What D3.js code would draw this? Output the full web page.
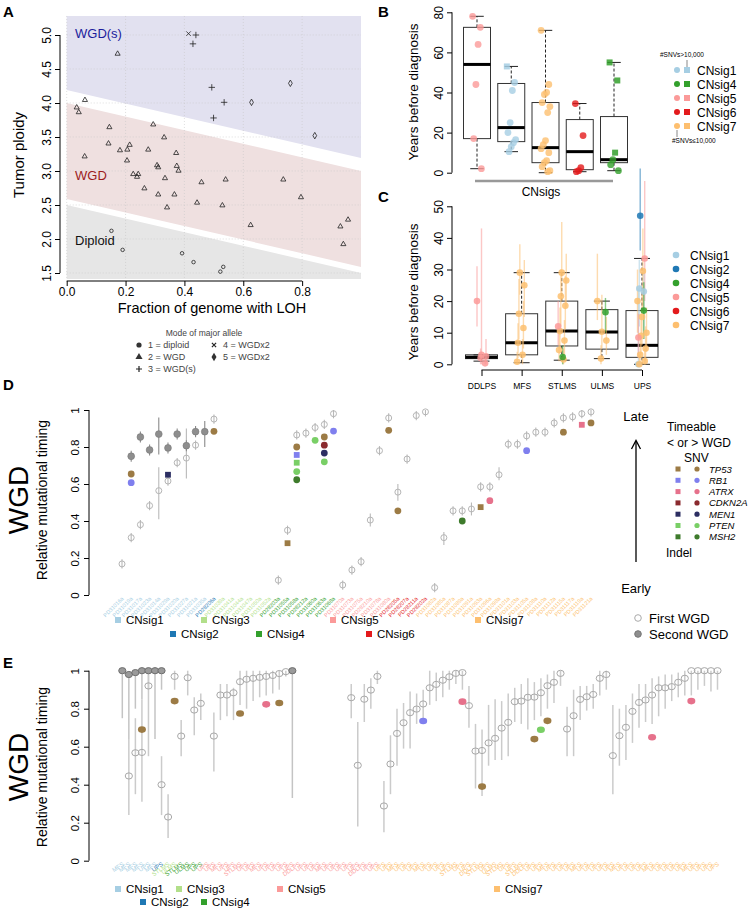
<!DOCTYPE html>
<html>
<head>
<meta charset="utf-8">
<script src="https://cdn.jsdelivr.net/npm/d3@7"></script>
<style>
  body { margin: 0; background: #fff; }
  svg { font-family: "Liberation Sans", Arial, Helvetica, sans-serif; }
</style>
</head>
<body>
<svg id="fig" width="748" height="908"></svg>
<script>
// ---------------- data ----------------
const sigColors = {
  CNsig1: '#a6cee3', CNsig2: '#1f78b4', CNsig3: '#b2df8a', CNsig4: '#33a02c',
  CNsig5: '#fb9a99', CNsig6: '#e31a1c', CNsig7: '#fdbf6f'
};
const geneColors = {
  TP53: '#9c7b45', RB1: '#7f7fee', ATRX: '#e6718b', CDKN2A: '#8a2a2e',
  MEN1: '#2c2e62', PTEN: '#79cf66', MSH2: '#3e7b2c'
};
const geneNames = ['TP53', 'RB1', 'ATRX', 'CDKN2A', 'MEN1', 'PTEN', 'MSH2'];

// Panel A: [fraction LOH, ploidy, mode]
const aPoints = [
  [0.173,4.73,2],[0.062,4.05,2],[0.034,3.94,2],[0.041,3.87,2],[0.145,3.65,2],[0.294,3.69,2],
  [0.331,3.50,2],[0.142,3.41,2],[0.214,3.39,2],[0.181,3.31,2],[0.206,3.32,2],[0.277,3.32,2],
  [0.372,3.27,2],[0.061,3.22,2],[0.205,3.16,2],[0.307,3.09,2],[0.311,3.06,2],[0.374,3.08,2],
  [0.380,3.01,2],[0.226,2.96,2],[0.243,2.96,2],[0.239,2.92,2],[0.334,2.90,2],[0.458,2.84,2],
  [0.540,2.88,2],[0.736,2.88,2],[0.264,2.75,2],[0.311,2.66,2],[0.366,2.66,2],[0.341,2.47,2],
  [0.443,2.54,2],[0.529,2.50,2],[0.796,2.62,2],[0.625,2.21,2],[0.956,2.29,2],[0.930,2.19,2],
  [0.940,1.93,2],
  [0.152,2.12,1],[0.190,1.84,1],[0.392,1.79,1],[0.431,1.66,1],[0.522,1.52,1],[0.532,1.59,1],
  [0.439,5.00,3],[0.429,4.87,3],[0.493,4.23,3],[0.535,4.01,3],[0.499,3.78,3],
  [0.414,5.02,4],
  [0.760,4.29,5],[0.628,4.01,5],[0.843,3.52,5]
];
// band boundaries, ploidy at LOH=0 and LOH=1
const bandWGDsLow = [4.19, 3.19];
const bandWGDHigh = [4.0, 3.0];
const bandWGDLow = [2.59, 1.59];
const bandDipHigh = [2.5, 1.5];
const aXTicks = [0, 0.2, 0.4, 0.6, 0.8];
const aYTicks = [1.5, 2.0, 2.5, 3.0, 3.5, 4.0, 4.5, 5.0];
const aLegend = [['1 = diploid', 1], ['2 = WGD', 2], ['3 = WGD(s)', 3], ['4 = WGDx2', 4], ['5 = WGDx2', 5]];

// Panel B
const bSigs = ['CNsig5', 'CNsig1', 'CNsig7', 'CNsig6', 'CNsig4'];
const bStats = [[2,17,54,72.5,78],[10.5,15.5,22.5,44.5,53],[0,5,12.5,35,71],[0.5,1.5,10.5,26.5,34.5],[1,5,6.5,28,55]];
const bPoints = [
  [[78,'c'],[72.5,'c'],[64,'c'],[44,'c'],[17,'c'],[2,'c']],
  [[53,'s'],[45,'c'],[41,'c'],[25,'c'],[20,'c'],[16.5,'c'],[15,'c'],[13,'c'],[10.5,'c']],
  [[71,'c'],[44,'c'],[40,'c'],[39,'c'],[35,'c'],[33,'c'],[30,'c'],[16,'c'],[14,'c'],[12,'c'],[10,'c'],[6,'c'],[5,'c'],[3,'c'],[1,'c'],[0.5,'c']],
  [[34.5,'c'],[18.5,'c'],[2.5,'c'],[1,'c'],[0.5,'c']],
  [[55,'s'],[46,'s'],[10,'s'],[6.5,'c'],[4,'c'],[1,'c']]
];
const bLegendSigs = ['CNsig1', 'CNsig4', 'CNsig5', 'CNsig6', 'CNsig7'];
const bYTicks = [0, 20, 40, 60, 80];

// Panel C
const cTypes = ['DDLPS', 'MFS', 'STLMS', 'ULMS', 'UPS'];
const cStats = [[1,1.8,2.2,3,3],[0.5,3,6.8,16,29],[1.3,5.8,10.5,20,29],[1.8,4.8,10.2,17.3,20],[0,2.2,6,17,33.5]];
const cPoints = [
  [0,'CNsig5',20,12,31],[0,'CNsig5',3,0,43],[0,'CNsig5',2.5,0,8],[0,'CNsig5',2,0,5],[0,'CNsig5',0.3,0,2],
  [1,'CNsig7',29,22,38],[1,'CNsig7',25,15,33],[1,'CNsig7',16,8,27],[1,'CNsig7',11.5,5,20],[1,'CNsig7',6.8,2,13],[1,'CNsig7',3,0,8],[1,'CNsig7',0.8,0,4],
  [2,'CNsig7',29,20,45],[2,'CNsig7',26.5,18,35],[2,'CNsig7',21.5,12,30],[2,'CNsig7',18.5,11,28],[2,'CNsig7',10.5,5,18],[2,'CNsig7',7.5,3,14],[2,'CNsig7',4.5,1,10],[2,'CNsig7',1.5,0,5],[2,'CNsig5',12,6,20],[2,'CNsig4',2.3,0,6],
  [3,'CNsig7',20,14,35],[3,'CNsig7',10.3,5,22],[3,'CNsig7',7.5,3,15],[3,'CNsig7',1.8,0,6],[3,'CNsig4',16.5,10,21],
  [4,'CNsig2',47,36,62],[4,'CNsig5',33.5,20,58],[4,'CNsig1',24,12,33],[4,'CNsig1',23,8,30],[4,'CNsig1',0,0,24],
  [4,'CNsig7',29.5,18,43],[4,'CNsig7',20,10,30],[4,'CNsig7',15,6,25],[4,'CNsig7',10,4,18],[4,'CNsig7',9,3,16],
  [4,'CNsig7',5,1,12],[4,'CNsig7',3,0,9],[4,'CNsig7',1,0,5],[4,'CNsig7',0,0,3],[4,'CNsig4',17,8,26],[4,'CNsig5',8.5,2,16]
];
const cLegendSigs = ['CNsig1', 'CNsig2', 'CNsig4', 'CNsig5', 'CNsig6', 'CNsig7'];
const cYTicks = [0, 10, 20, 30, 40, 50];

// Panel D (samples grouped by CN signature)
const dGroups = [['CNsig1',10],['CNsig2',1],['CNsig3',6],['CNsig4',7],['CNsig5',6],['CNsig6',4],['CNsig7',18]];
const dSamples = [
  'PD31016a','PD31019a','PD31017a','PD31023a','PD31014a','PD31029a','PD31020a','PD31027a','PD31021a','PD31035a',
  'PD28206a','PD31039a','PD31041a','PD31044a','PD31047a','PD31050a','PD31052a','PD28203a','PD31055a','PD31058a',
  'PD28212a','PD31060a','PD31063a','PD31068a','PD31070a','PD31073a','PD31075a','PD28210a','PD31078a','PD31080a',
  'PD28205a','PD28207a','PD28211a','PD28202a','PD31082a','PD31085a','PD31087a','PD31089a','PD31091a','PD31093a',
  'PD31096a','PD31098a','PD31101a','PD31103a','PD31105a','PD31108a','PD31110a','PD31112a','PD31115a','PD31117a',
  'PD31119a','PD31121a'
];
const dFirst = [
  0.168,0.31,0.38,0.483,0.564,0.616,0.715,0.74,0.81,null,
  0.951,null,null,null,null,null,null,0.08,0.35,0.865,
  0.875,0.905,0.922,0.98,0.054,0.135,0.18,0.405,0.78,0.957,
  0.556,0.735,0.97,0.99,0.04,0.31,0.455,0.455,0.465,0.585,
  0.585,0.65,0.815,0.815,0.86,0.88,0.88,0.93,0.957,0.963,
  0.98,0.99
];
const dWideErr = [[4,0.41,0.69],[7,0.63,0.9],[27,0.37,0.44],[30,0.51,0.6],[41,0.62,0.69],[38,0.43,0.5],[35,0.27,0.34]];
const dSecond = [[1,0.75],[2,0.854],[3,0.784],[4,0.87,0.76,0.96],[5,0.795],[6,0.87],[7,0.807],[8,0.883],[9,0.883,0.8,0.94]];
const dMuts = [
  [1,'TP53','snv',0.654],[1,'RB1','snv',0.607],[5,'MEN1','indel',0.65],[10,'TP53','snv',0.885],
  [18,'TP53','indel',0.28],[19,'TP53','snv',0.80],[19,'RB1','indel',0.757],[19,'PTEN','indel',0.715],
  [19,'PTEN','snv',0.667],[19,'MSH2','snv',0.623],[21,'PTEN','snv',0.836],[22,'TP53','snv',0.854],
  [22,'CDKN2A','snv',0.81],[22,'MEN1','snv',0.767],[22,'PTEN','snv',0.72],[23,'RB1','snv',0.886],
  [29,'TP53','snv',0.89],[30,'TP53','snv',0.455],[37,'MSH2','snv',0.40],[39,'TP53','indel',0.475],
  [40,'ATRX','snv',0.51],[44,'RB1','snv',0.78],[48,'TP53','snv',0.88],[50,'ATRX','indel',0.92],[51,'TP53','snv',0.93]
];
const timingTicks = [0, 0.2, 0.4, 0.6, 0.8, 1];

// Panel E (samples grouped by CN signature, labelled by histotype)
const eGroups = [['CNsig1',6],['CNsig2',1],['CNsig3',2],['CNsig4',4],['CNsig5',27],['CNsig7',52]];
const eTypes = (
  'MFS MFS MFS MFS UPS MFS UPS STLMS ULMS STLMS ULMS UPS UPS ' +
  'UPS UPS MFS UPS UPS STLMS UPS UPS MFS UPS UPS UPS UPS UPS DDLPS UPS UPS UPS MFS UPS UPS UPS UPS UPS DDLPS UPS UPS ' +
  'UPS UPS MFS UPS UPS UPS MFS UPS UPS UPS UPS STLMS UPS UPS DDLPS STLMS UPS ULMS STLMS UPS ' +
  'UPS STLMS DDLPS UPS UPS MFS UPS UPS UPS UPS MFS UPS UPS UPS UPS UPS MFS UPS UPS UPS ' +
  'UPS MFS UPS UPS UPS UPS UPS MFS UPS UPS UPS UPS'
).split(' ');
const eFirst = [
  [1,0.446,0.24,0.64],[2,0.568,0.35,0.75],[3,0.57,0.31,0.85],[4,0.92,0.55,1],[6,0.40,0.24,0.55],
  [7,0.23,0.12,0.35],[8,0.97,0.9,1],[9,0.656,0.55,0.74],[10,0.963,0.87,1],[11,0.793,0.66,0.86],
  [12,0.828,0.74,0.88],[14,0.656,0.47,0.78],[15,0.872,0.74,0.93],[16,0.872,0.76,0.93],[17,0.884,0.74,0.91],
  [18,0.942,0.82,1],[19,0.955,0.8,1],[20,0.96,0.84,1],[21,0.965,0.86,1],[22,0.97,0.87,1],
  [23,0.975,0.88,1],[24,0.985,0.9,1],[25,0.995,0.97,1],
  [35,0.858,0.75,0.93],[36,0.502,0.18,0.73],[37,0.85,0.73,0.93],[38,0.898,0.8,0.96],[39,0.97,0.93,1],
  [40,0.288,0.15,0.42],[41,0.509,0.35,0.66],[42,0.67,0.5,0.8],[43,0.726,0.59,0.83],[44,0.779,0.59,0.89],
  [45,0.798,0.72,0.88],[46,0.825,0.75,0.9],[47,0.91,0.82,1],[48,0.928,0.84,0.99],[49,0.95,0.86,1],
  [50,0.968,0.9,1],[51,0.986,0.93,1],[52,0.99,0.9,1],[53,0.816,0.7,0.92],[54,0.577,0.38,0.72],
  [55,0.58,0.34,0.69],[56,0.62,0.5,0.82],[57,0.644,0.53,0.85],[58,0.698,0.53,0.84],[59,0.728,0.55,0.88],
  [60,0.837,0.73,0.91],[61,0.84,0.72,0.93],[62,0.86,0.69,0.96],[63,0.861,0.74,0.94],[64,0.884,0.76,0.96],
  [65,0.921,0.8,0.98],[66,0.939,0.83,1],[67,0.986,0.92,1],[68,0.693,0.55,0.81],[69,0.763,0.55,0.9],
  [70,0.849,0.74,0.92],[71,0.863,0.79,0.92],[72,0.875,0.8,0.93],[73,0.96,0.87,1],[74,0.98,0.9,1],
  [75,0.553,0.35,0.82],[76,0.658,0.5,0.8],[77,0.702,0.53,0.82],[78,0.786,0.62,0.88],[79,0.833,0.7,0.93],
  [80,0.846,0.73,0.93],[81,0.872,0.72,0.96],[82,0.91,0.76,0.97],[83,0.91,0.8,0.98],[84,0.916,0.84,0.98],
  [85,0.939,0.86,0.99],[86,0.96,0.87,1],[87,1,0.87,1],[88,1,0.9,1],[89,1,0.92,1],[90,1,0.89,1],[91,1,0.9,1]
];
const eSecond = [[0,1,0.75],[1,0.98,0.64],[2,0.99,0.8],[3,1,0.85],[4,1,0.9],[5,1,0.64],[6,1,0.9],[26,1,0.33]];
const eMuts = [
  [3,'TP53',0.69],[8,'TP53',0.84],[18,'TP53',0.775],[22,'ATRX',0.823],[24,'TP53',0.83],[46,'RB1',0.735],
  [52,'ATRX',0.837],[55,'TP53',0.39],[63,'TP53',0.64],[64,'PTEN',0.689],[65,'TP53',0.736],[81,'ATRX',0.65],[87,'ATRX',0.84]
];

// ---------------- helpers ----------------
const svg = d3.select('#fig');

function panelLetter(txt, x, y) {
  svg.append('text').attr('x', x).attr('y', y).attr('font-size', 15).attr('font-weight', 'bold').text(txt);
}

// R-like left axis: line spans first..last tick, labels rotated
function leftAxis(scale, ticks, x, fs, fmt, labOff) {
  const g = svg.append('g').attr('transform', `translate(${x},0)`)
    .call(d3.axisLeft(scale).tickValues(ticks).tickSize(5).tickSizeOuter(0).tickFormat(fmt));
  g.select('.domain').attr('d', `M0,${scale(ticks[0])}V${scale(ticks[ticks.length - 1])}`);
  g.selectAll('.tick line').attr('stroke', '#000');
  g.selectAll('.tick text')
    .attr('x', 0).attr('dy', 0)
    .attr('transform', `translate(${-labOff},0) rotate(-90)`)
    .attr('text-anchor', 'middle')
    .attr('font-size', fs).attr('font-family', null).attr('fill', '#000');
  return g;
}

function rotTitle(txt, x, y, fs) {
  svg.append('text').attr('transform', `translate(${x},${y}) rotate(-90)`)
    .attr('text-anchor', 'middle').attr('font-size', fs).text(txt);
}

// ---------------- Panel A ----------------
panelLetter('A', 3, 17);
const ax = d3.scaleLinear().domain([0, 1]).range([66.7, 361]);
const ay = d3.scaleLinear().domain([1.5, 5]).range([273, 35]);
const aTop = 5.28, aBot = 1.41;
const band = (pts, col) => svg.append('polygon')
  .attr('points', pts.map(p => [ax(p[0]), ay(p[1])].join(',')).join(' ')).attr('fill', col);
band([[0, aTop], [1, aTop], [1, bandWGDsLow[1]], [0, bandWGDsLow[0]]], '#e2e1f0');
band([[0, bandWGDHigh[0]], [1, bandWGDHigh[1]], [1, bandWGDLow[1]], [0, bandWGDLow[0]]], '#efe0e0');
band([[0, bandDipHigh[0]], [1, bandDipHigh[1]], [1, aBot], [0, aBot]], '#e6e6e6');
// faint grid
aXTicks.forEach(t => svg.append('line').attr('x1', ax(t)).attr('x2', ax(t)).attr('y1', ay(aTop)).attr('y2', ay(aBot))
  .attr('stroke', '#c8c8c8').attr('stroke-dasharray', '1,2').attr('stroke-width', 0.6));
aYTicks.forEach(t => svg.append('line').attr('x1', ax(0)).attr('x2', ax(1)).attr('y1', ay(t)).attr('y2', ay(t))
  .attr('stroke', '#c8c8c8').attr('stroke-dasharray', '1,2').attr('stroke-width', 0.6));

svg.append('text').attr('x', 75).attr('y', 38).attr('font-size', 13).attr('fill', '#1c1c9c').text('WGD(s)');
svg.append('text').attr('x', 75).attr('y', 180).attr('font-size', 13).attr('fill', '#9c1c1c').text('WGD');
svg.append('text').attr('x', 75).attr('y', 245).attr('font-size', 13).attr('fill', '#111').text('Diploid');

function aSymbol(g, mode, x, y, s) {
  const st = { fill: 'none', stroke: '#222', 'stroke-width': 0.8 };
  let el;
  if (mode === 1) el = g.append('circle').attr('cx', x).attr('cy', y).attr('r', s * 0.55);
  else if (mode === 2) el = g.append('path').attr('transform', `translate(${x},${y + 0.4})`).attr('d', d3.symbol(d3.symbolTriangle, s * s * 1.1)());
  else if (mode === 3) el = g.append('path').attr('d', `M${x - s},${y}H${x + s}M${x},${y - s}V${y + s}`);
  else if (mode === 4) el = g.append('path').attr('d', `M${x - s * 0.7},${y - s * 0.7}L${x + s * 0.7},${y + s * 0.7}M${x - s * 0.7},${y + s * 0.7}L${x + s * 0.7},${y - s * 0.7}`);
  else el = g.append('path').attr('transform', `translate(${x},${y})`).attr('d', d3.symbol(d3.symbolDiamond, s * s * 1.2)());
  Object.entries(st).forEach(([k, v]) => el.attr(k, v));
  return el;
}
const aG = svg.append('g');
aPoints.forEach(p => aSymbol(aG, p[2], ax(p[0]), ay(p[1]), 3.2));

const aXAxis = svg.append('g').attr('transform', 'translate(0,281)')
  .call(d3.axisBottom(ax).tickValues(aXTicks).tickSize(5).tickSizeOuter(0).tickFormat(d3.format('.1f')));
aXAxis.select('.domain').attr('d', `M${ax(0)},0H${ax(0.8)}`);
aXAxis.selectAll('.tick text').attr('font-size', 12).attr('font-family', null).attr('fill', '#000').attr('dy', '0.62em');
leftAxis(ay, aYTicks, 60, 12, d3.format('.1f'), 9);
rotTitle('Tumor ploidy', 24, 155, 15);
svg.append('text').attr('x', 212).attr('y', 313).attr('text-anchor', 'middle').attr('font-size', 14.5).text('Fraction of genome with LOH');

// legend A
svg.append('text').attr('x', 204).attr('y', 336).attr('text-anchor', 'middle').attr('font-size', 8.5).attr('fill', '#444').text('Mode of major allele');
aLegend.forEach((d, k) => {
  const col = k < 3 ? 0 : 1, row = k < 3 ? k : k - 3;
  const sx = col ? 214 : 139, sy = 345 + row * 12;
  const g = svg.append('g');
  if (d[1] === 1) g.append('circle').attr('cx', sx).attr('cy', sy).attr('r', 2.6).attr('fill', '#333');
  else if (d[1] === 2) g.append('path').attr('transform', `translate(${sx},${sy})`).attr('d', d3.symbol(d3.symbolTriangle, 22)()).attr('fill', '#333');
  else if (d[1] === 5) g.append('path').attr('transform', `translate(${sx},${sy})`).attr('d', d3.symbol(d3.symbolDiamond, 22)()).attr('fill', '#333');
  else aSymbol(g, d[1], sx, sy, 3).attr('stroke-width', 1.2);
  svg.append('text').attr('x', sx + 9).attr('y', sy + 3.3).attr('font-size', 9).attr('fill', '#444').text(d[0]);
});

// ---------------- Panel B ----------------
panelLetter('B', 378, 17);
const bx = d3.scalePoint().domain(bSigs).range([477, 614]);
const by = d3.scaleLinear().domain([0, 80]).range([172.7, 12.3]);
const bW = 27;
function boxes(xs, ys, keys, stats, w) {
  keys.forEach((k, i) => {
    const [lo, q1, med, q3, hi] = stats[i], cx = xs(k);
    const g = svg.append('g');
    g.append('line').attr('x1', cx).attr('x2', cx).attr('y1', ys(q3)).attr('y2', ys(hi)).attr('stroke', '#222').attr('stroke-dasharray', '3,2');
    g.append('line').attr('x1', cx).attr('x2', cx).attr('y1', ys(q1)).attr('y2', ys(lo)).attr('stroke', '#222').attr('stroke-dasharray', '3,2');
    [lo, hi].forEach(v => g.append('line').attr('x1', cx - w / 4).attr('x2', cx + w / 4).attr('y1', ys(v)).attr('y2', ys(v)).attr('stroke', '#222'));
    g.append('rect').attr('x', cx - w / 2).attr('y', ys(q3)).attr('width', w).attr('height', ys(q1) - ys(q3))
      .attr('fill', 'none').attr('stroke', '#333');
    g.append('line').attr('x1', cx - w / 2).attr('x2', cx + w / 2).attr('y1', ys(med)).attr('y2', ys(med)).attr('stroke', '#000').attr('stroke-width', 3);
  });
}
boxes(bx, by, bSigs, bStats, bW);
bSigs.forEach((s, i) => {
  bPoints[i].forEach((p, j) => {
    const x = bx(s) + ((j * 7) % 9 - 4) * 1.1, y = by(p[0]);
    if (p[1] === 's') svg.append('rect').attr('x', x - 3).attr('y', y - 3).attr('width', 6).attr('height', 6).attr('fill', sigColors[s]).attr('opacity', 0.85);
    else svg.append('circle').attr('cx', x).attr('cy', y).attr('r', 3.4).attr('fill', sigColors[s]).attr('opacity', 0.8);
  });
});
leftAxis(by, bYTicks, 452, 12, d3.format('d'), 9);
rotTitle('Years before diagnosis', 418, 92, 13.5);
svg.append('line').attr('x1', 475).attr('x2', 613).attr('y1', 181).attr('y2', 181).attr('stroke', '#999').attr('stroke-width', 2.5);
svg.append('text').attr('x', 541).attr('y', 196).attr('text-anchor', 'middle').attr('font-size', 12).text('CNsigs');
// legend B
svg.append('text').attr('x', 660).attr('y', 57).attr('font-size', 6.5).text('#SNVs>10,000');
svg.append('line').attr('x1', 687).attr('x2', 687).attr('y1', 60).attr('y2', 67).attr('stroke', '#888');
bLegendSigs.forEach((s, k) => {
  const y = 70 + k * 14;
  svg.append('circle').attr('cx', 677).attr('cy', y).attr('r', 3).attr('fill', sigColors[s]);
  svg.append('rect').attr('x', 684).attr('y', y - 3).attr('width', 6).attr('height', 6).attr('fill', sigColors[s]);
  svg.append('text').attr('x', 697).attr('y', y + 4.5).attr('font-size', 12).text(s);
});
svg.append('line').attr('x1', 677).attr('x2', 677).attr('y1', 130).attr('y2', 137).attr('stroke', '#888');
svg.append('text').attr('x', 672).attr('y', 143).attr('font-size', 6.5).text('#SNVs\u226410,000');

// ---------------- Panel C ----------------
panelLetter('C', 378, 202);
const cx = d3.scalePoint().domain(cTypes).range([481.5, 642]);
const cy = d3.scaleLinear().domain([0, 50]).range([364.3, 206.3]);
const cW = 32;
boxes(cx, cy, cTypes, cStats, cW);
cPoints.forEach((p, j) => {
  const x = cx(cTypes[p[0]]) + ((j * 5) % 11 - 5) * 0.9;
  svg.append('line').attr('x1', x).attr('x2', x).attr('y1', cy(p[3])).attr('y2', cy(p[4]))
    .attr('stroke', sigColors[p[1]]).attr('stroke-width', 1.4).attr('opacity', 0.55);
});
cPoints.forEach((p, j) => {
  const x = cx(cTypes[p[0]]) + ((j * 5) % 11 - 5) * 0.9;
  svg.append('circle').attr('cx', x).attr('cy', cy(p[2])).attr('r', 3.3).attr('fill', sigColors[p[1]]).attr('opacity', 0.85);
});
leftAxis(cy, cYTicks, 452, 12, d3.format('d'), 9);
rotTitle('Years before diagnosis', 418, 292, 13.5);
const cAxis = svg.append('g').attr('transform', 'translate(0,370)')
  .call(d3.axisBottom(cx).tickSize(6).tickSizeOuter(0));
cAxis.select('.domain').attr('d', `M${cx(cTypes[0])},0H${cx(cTypes[4])}`);
cAxis.selectAll('.tick text').attr('font-size', 8.5).attr('font-family', null).attr('fill', '#000').attr('dy', '1.2em');
cLegendSigs.forEach((s, k) => {
  const y = 255 + k * 14;
  svg.append('circle').attr('cx', 676).attr('cy', y).attr('r', 3.3).attr('fill', sigColors[s]);
  svg.append('text').attr('x', 690).attr('y', y + 4.5).attr('font-size', 12).text(s);
});

// ---------------- timing panels (D, E) ----------------
function groupOf(groups, i) {
  let acc = 0;
  for (const [g, n] of groups) { acc += n; if (i < acc) return g; }
  return groups[groups.length - 1][0];
}
function timingFrame(y, midY) {
  leftAxis(y, timingTicks, 89, 11.5, d => d === 0 || d === 1 ? String(d) : d3.format('.1f')(d), 10);
  rotTitle('Relative mutational timing', 47, midY, 14);
  svg.append('text').attr('transform', `translate(28,${midY}) rotate(-90)`).attr('text-anchor', 'middle')
    .attr('font-size', 28).text('WGD');
}
function groupLegend(items, yRow1, yRow2) {
  items.forEach(([s, x, row]) => {
    const y = row ? yRow2 : yRow1;
    svg.append('rect').attr('x', x).attr('y', y - 3).attr('width', 6).attr('height', 6).attr('fill', sigColors[s]);
    svg.append('text').attr('x', x + 11).attr('y', y + 4).attr('font-size', 11.5).text(s);
  });
}

// ---------------- Panel D ----------------
panelLetter('D', 3, 390);
const dx = d3.scaleLinear().domain([0, dSamples.length - 1]).range([122, 591]);
const dy = d3.scaleLinear().domain([0, 1]).range([595, 410]);
timingFrame(dy, 500);
dFirst.forEach((v, i) => {
  if (v === null) return;
  const w = dWideErr.find(e => e[0] === i);
  const lo = w ? w[1] : v - 0.025, hi = w ? w[2] : Math.min(v + 0.025, 1.0);
  svg.append('line').attr('x1', dx(i)).attr('x2', dx(i)).attr('y1', dy(lo)).attr('y2', dy(hi)).attr('stroke', '#b9b9b9').attr('stroke-width', 1.1);
  svg.append('circle').attr('cx', dx(i)).attr('cy', dy(v)).attr('r', 3).attr('fill', 'none').attr('stroke', '#b5b5b5').attr('stroke-width', 1);
});
dSecond.forEach(d => {
  const lo = d.length > 2 ? d[2] : d[1] - 0.03, hi = d.length > 2 ? d[3] : d[1] + 0.03;
  svg.append('line').attr('x1', dx(d[0])).attr('x2', dx(d[0])).attr('y1', dy(lo)).attr('y2', dy(hi)).attr('stroke', '#8a8a8a').attr('stroke-width', 1.1);
  svg.append('circle').attr('cx', dx(d[0])).attr('cy', dy(d[1])).attr('r', 3.4).attr('fill', '#8e8e8e').attr('stroke', '#777').attr('stroke-width', 0.6);
});
dMuts.forEach(m => {
  const x = dx(m[0]), y = dy(m[3]);
  if (m[2] === 'indel') svg.append('rect').attr('x', x - 2.9).attr('y', y - 2.9).attr('width', 5.8).attr('height', 5.8).attr('fill', geneColors[m[1]]);
  else svg.append('circle').attr('cx', x).attr('cy', y).attr('r', 3.4).attr('fill', geneColors[m[1]]);
});
dSamples.forEach((name, i) => {
  svg.append('text').attr('transform', `translate(${dx(i) + 2},${599}) rotate(-45)`).attr('text-anchor', 'end')
    .attr('font-size', 5.5).attr('fill', sigColors[groupOf(dGroups, i)]).text(name);
});
groupLegend([['CNsig1', 115, 0], ['CNsig3', 201, 0], ['CNsig5', 330, 0], ['CNsig7', 475, 0],
  ['CNsig2', 170, 1], ['CNsig4', 256, 1], ['CNsig6', 366, 1]], 620, 634);
// D right legend
svg.append('text').attr('x', 636).attr('y', 421).attr('text-anchor', 'middle').attr('font-size', 13).text('Late');
svg.append('text').attr('x', 636).attr('y', 593).attr('text-anchor', 'middle').attr('font-size', 13).text('Early');
svg.append('line').attr('x1', 636).attr('x2', 636).attr('y1', 562).attr('y2', 441).attr('stroke', '#000').attr('stroke-width', 1.3);
svg.append('path').attr('d', 'M631.5,449L636,440.5L640.5,449').attr('fill', 'none').attr('stroke', '#000').attr('stroke-width', 1.3);
svg.append('text').attr('x', 667).attr('y', 431).attr('font-size', 12).text('Timeable');
svg.append('text').attr('x', 667).attr('y', 447).attr('font-size', 12).text('< or > WGD');
svg.append('text').attr('x', 684).attr('y', 462).attr('font-size', 12).text('SNV');
geneNames.forEach((g, k) => {
  const y = 469 + k * 11.3;
  svg.append('rect').attr('x', 675.5).attr('y', y - 2.5).attr('width', 5).attr('height', 5).attr('fill', geneColors[g]);
  svg.append('circle').attr('cx', 697).attr('cy', y).attr('r', 2.6).attr('fill', geneColors[g]);
  svg.append('text').attr('x', 709).attr('y', y + 3.5).attr('font-size', 9.5).attr('font-style', 'italic').text(g);
});
svg.append('text').attr('x', 666).attr('y', 557).attr('font-size', 12).text('Indel');
svg.append('circle').attr('cx', 638).attr('cy', 618).attr('r', 3.3).attr('fill', 'none').attr('stroke', '#aaa');
svg.append('text').attr('x', 649).attr('y', 623).attr('font-size', 13).text('First WGD');
svg.append('circle').attr('cx', 638).attr('cy', 634).attr('r', 3.3).attr('fill', '#8e8e8e').attr('stroke', '#777');
svg.append('text').attr('x', 649).attr('y', 639).attr('font-size', 13).text('Second WGD');

// ---------------- Panel E ----------------
panelLetter('E', 3, 668);
const ex = d3.scaleLinear().domain([0, eTypes.length - 1]).range([122.3, 717.5]);
const ey = d3.scaleLinear().domain([0, 1]).range([860.7, 670.7]);
timingFrame(ey, 767);
eSecond.forEach(d => {
  svg.append('line').attr('x1', ex(d[0])).attr('x2', ex(d[0])).attr('y1', ey(d[2])).attr('y2', ey(d[1])).attr('stroke', '#c4c4c4').attr('stroke-width', 1.5);
});
eFirst.forEach(d => {
  svg.append('line').attr('x1', ex(d[0])).attr('x2', ex(d[0])).attr('y1', ey(d[2])).attr('y2', ey(d[3])).attr('stroke', '#cbcbcb').attr('stroke-width', 1.5);
});
eFirst.forEach(d => {
  svg.append('ellipse').attr('cx', ex(d[0])).attr('cy', ey(d[1])).attr('rx', 3.6).attr('ry', 3.1)
    .attr('fill', 'none').attr('stroke', '#a8a8a8').attr('stroke-width', 1);
});
eSecond.forEach(d => {
  svg.append('ellipse').attr('cx', ex(d[0])).attr('cy', ey(d[1])).attr('rx', 3.6).attr('ry', 3.1)
    .attr('fill', '#9a9a9a').attr('stroke', '#6f6f6f').attr('stroke-width', 1);
});
eMuts.forEach(m => {
  svg.append('ellipse').attr('cx', ex(m[0])).attr('cy', ey(m[2])).attr('rx', 4).attr('ry', 3.3).attr('fill', geneColors[m[1]]);
});
eTypes.forEach((t, i) => {
  svg.append('text').attr('transform', `translate(${ex(i) + 2},${865}) rotate(-35)`).attr('text-anchor', 'end')
    .attr('font-size', 6).attr('fill', sigColors[groupOf(eGroups, i)]).text(t);
});
groupLegend([['CNsig1', 115, 0], ['CNsig3', 176, 0], ['CNsig5', 277, 0], ['CNsig7', 494, 0],
  ['CNsig2', 140, 1], ['CNsig4', 201, 1]], 889, 902);
</script>
</body>
</html>
